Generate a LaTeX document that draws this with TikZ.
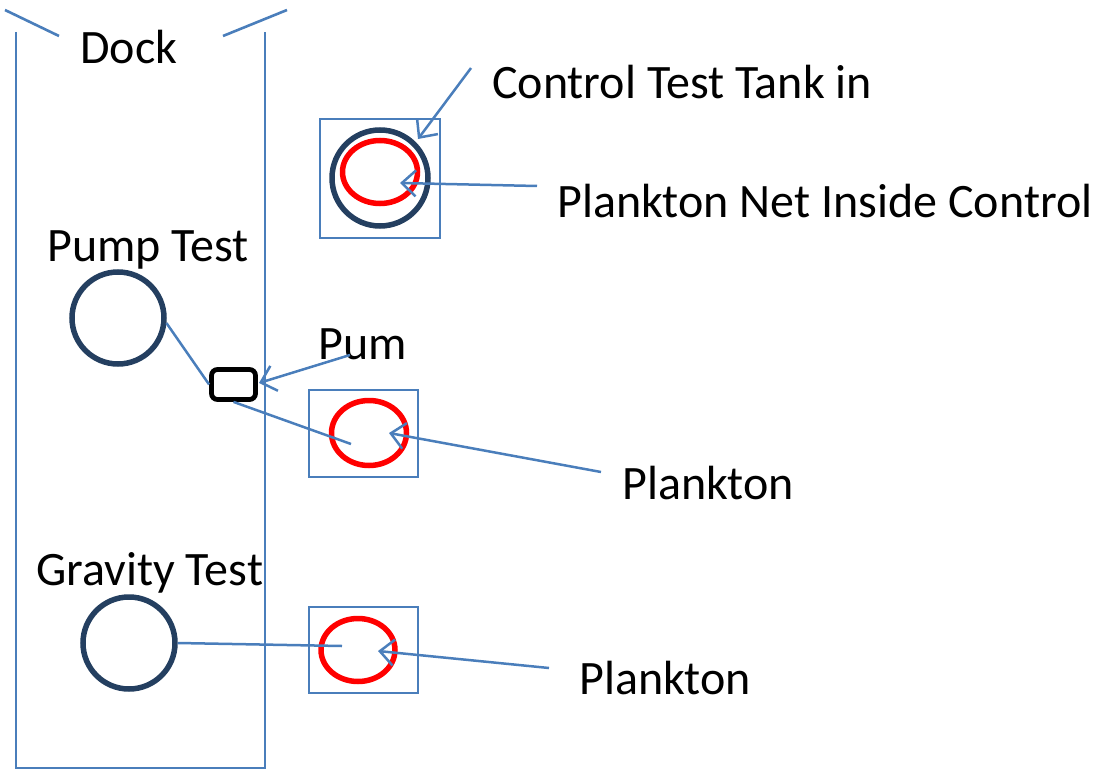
\documentclass[tikz,border=0pt]{standalone}
\usepackage{fontspec}
\setmainfont{Carlito}
\usetikzlibrary{arrows.meta,shapes.geometric}
\definecolor{lineblue}{HTML}{4A7EBB}
\definecolor{navy}{HTML}{243F60}
\definecolor{tankred}{HTML}{FF0000}
\tikzset{
  lbl/.style={anchor=base west,inner sep=0pt,font=\fontsize{48}{57}\selectfont},
  dockline/.style={draw=lineblue,line width=2.6pt},
  conn/.style={draw=lineblue,line width=2.5pt},
  arr/.style={conn,-{Straight Barb[length=14pt,width=26pt,line width=2.5pt]}},
  tankbox/.style={draw=lineblue,line width=2pt,rectangle,inner sep=0pt},
  navycirc/.style={draw=navy,line width=5.5pt,circle,inner sep=0pt},
  rednet/.style={draw=tankred,line width=5.5pt,ellipse,inner sep=0pt},
}
\begin{document}
\begin{tikzpicture}[x=1pt,y=-1pt]
\useasboundingbox (0,0) rectangle (1094,770);
% dock
\draw[dockline] (16,32) -- (16,768) -- (265,768) -- (265,32);
\draw[dockline] (5,10) -- (59,36);
\draw[dockline] (223,36) -- (287,10);
\node[lbl] (dock) at (80,64) {Dock};
% control tank
\node[tankbox,minimum width=120pt,minimum height=119pt] (cbox) at (380,178.5) {};
\node[navycirc,minimum size=96pt] (ctank) at (380,178) {};
\node[rednet,minimum width=75pt,minimum height=63pt] (cnet) at (380,172) {};
\node[lbl] (ctext) at (492,99) {Control Test Tank in};
\node[lbl] (ntext) at (557,217) {Plankton Net Inside Control};
\coordinate (c1) at (471,68);
\coordinate (c1t) at (418,139);
\coordinate (c2) at (537,186);
\coordinate (c2t) at (400,183);
\draw[arr] (c1) -- (c1t);
\draw[arr] (c2) -- (c2t);
% pump test
\node[lbl] (ptext) at (47,261) {Pump Test};
\node[navycirc,minimum size=92pt] (ptank) at (118,318) {};
\node[draw=black,line width=4.8pt,rectangle,rounded corners=6pt,minimum width=44pt,minimum height=30pt,inner sep=0pt] (pump) at (233.5,384.5) {};
\node[lbl] (pumtext) at (318,359) {Pum};
\node[tankbox,minimum width=109pt,minimum height=87pt] (pbox) at (363.5,433.5) {};
\node[rednet,minimum width=75pt,minimum height=65pt] (pnet) at (369,433) {};
\node[lbl] (pltext1) at (622,499) {Plankton};
\coordinate (p1) at (351,444);
\coordinate (p2) at (350,355);
\coordinate (p2t) at (259,383);
\coordinate (p3) at (601,472);
\coordinate (p3t) at (389,433);
\draw[conn] (ptank.-6) -- (pump.west);
\draw[conn] (pump.south) -- (p1);
\draw[arr] (p2) -- (p2t);
\draw[arr] (p3) -- (p3t);
% gravity test
\node[lbl] (gtext) at (36,585) {Gravity Test};
\node[navycirc,minimum size=92pt] (gtank) at (129,643) {};
\node[tankbox,minimum width=109pt,minimum height=86pt] (gbox) at (363.5,650) {};
\node[rednet,minimum width=74pt,minimum height=63pt] (gnet) at (358,650) {};
\node[lbl] (pltext2) at (579,694) {Plankton};
\coordinate (g1) at (342,646);
\coordinate (g2) at (549,668);
\coordinate (g2t) at (378,651);
\draw[conn] (gtank.east) -- (g1);
\draw[arr] (g2) -- (g2t);
\end{tikzpicture}
\end{document}
